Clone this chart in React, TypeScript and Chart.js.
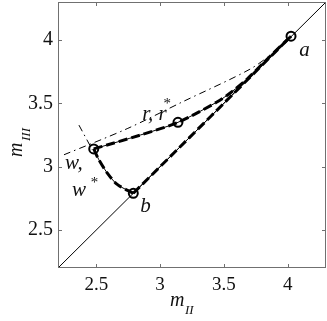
import React, { useEffect, useRef } from "react";
import { Chart, registerables } from "chart.js";

Chart.register(...registerables);

const xRange = [2.2, 4.3];
const yRange = [2.2, 4.3];
const tickValues = [2.5, 3, 3.5, 4];

// y = x diagonal
const diagonal = [
  { x: 2.2, y: 2.2 },
  { x: 4.3, y: 4.3 },
];

// dash-dot curves
const dashDotMain = [
  { x: 2.247, y: 3.094 },
  { x: 2.742, y: 3.3 },
  { x: 3.172, y: 3.51 },
  { x: 3.705, y: 3.77 },
  { x: 3.926, y: 3.927 },
];
const dashDotShort = [
  { x: 2.364, y: 3.328 },
  { x: 2.469, y: 3.133 },
];

// trajectories
const curveWRA = [
  { x: 2.48, y: 3.14 },
  { x: 2.846, y: 3.25 },
  { x: 3.14, y: 3.35 },
  { x: 3.445, y: 3.51 },
  { x: 3.56, y: 3.59 },
  { x: 3.68, y: 3.69 },
  { x: 3.85, y: 3.86 },
  { x: 4.026, y: 4.03 },
];
const curveWB = [
  { x: 2.48, y: 3.14 },
  { x: 2.52, y: 3.055 },
  { x: 2.586, y: 2.95 },
  { x: 2.664, y: 2.86 },
  { x: 2.79, y: 2.79 },
];
const curveBA = [
  { x: 2.79, y: 2.79 },
  { x: 3.4, y: 3.4 },
  { x: 4.026, y: 4.03 },
];

const markers = [
  { x: 4.026, y: 4.03 },
  { x: 3.14, y: 3.35 },
  { x: 2.48, y: 3.14 },
  { x: 2.79, y: 2.79 },
];

// annotation labels (data coordinates of text baseline-left)
const labels = [
  { text: "a", x: 4.09, y: 3.87, size: 21 },
  { text: "b", x: 2.845, y: 2.64, size: 21 },
  { text: "r, r", x: 2.86, y: 3.37, size: 21 },
  { text: "*", x: 3.02, y: 3.46, size: 15 },
  { text: "w,", x: 2.255, y: 2.98, size: 21 },
  { text: "w", x: 2.31, y: 2.77, size: 21 },
  { text: "*", x: 2.45, y: 2.84, size: 15 },
];

const frameColor = "#707070";
const serif = "'Liberation Serif', 'Times New Roman', serif";

const framePlugin = {
  id: "frameTicks",
  afterDatasetsDraw(chart: any) {
    const { ctx, chartArea: a, scales } = chart;
    const xs = scales.x;
    const ys = scales.y;
    ctx.save();
    ctx.strokeStyle = frameColor;
    ctx.lineWidth = 1;
    ctx.strokeRect(a.left + 0.5, a.top + 0.5, a.right - a.left - 1, a.bottom - a.top - 1);
    const tl = 4;
    ctx.beginPath();
    for (const v of tickValues) {
      const px = Math.round(xs.getPixelForValue(v)) + 0.5;
      ctx.moveTo(px, a.bottom);
      ctx.lineTo(px, a.bottom - tl);
      ctx.moveTo(px, a.top);
      ctx.lineTo(px, a.top + tl);
      const py = Math.round(ys.getPixelForValue(v)) + 0.5;
      ctx.moveTo(a.left, py);
      ctx.lineTo(a.left + tl, py);
      ctx.moveTo(a.right, py);
      ctx.lineTo(a.right - tl, py);
    }
    ctx.stroke();

    // annotation labels
    ctx.fillStyle = "#111";
    ctx.textBaseline = "alphabetic";
    ctx.textAlign = "left";
    for (const l of labels) {
      ctx.font = `italic ${l.size}px ${serif}`;
      ctx.fillText(l.text, xs.getPixelForValue(l.x), ys.getPixelForValue(l.y));
    }

    // axis titles
    ctx.font = `italic 20px ${serif}`;
    const cx = (a.left + a.right) / 2;
    ctx.fillText("m", cx - 22, 306);
    ctx.font = `italic 13px ${serif}`;
    ctx.fillText("II", cx - 7, 314);

    ctx.save();
    ctx.translate(22, (a.top + a.bottom) / 2);
    ctx.rotate(-Math.PI / 2);
    ctx.font = `italic 20px ${serif}`;
    ctx.fillText("m", -22, 0);
    ctx.font = `italic 13px ${serif}`;
    ctx.fillText("III", -6, 8);
    ctx.restore();
    ctx.restore();
  },
};

export default function App() {
  const ref = useRef<HTMLCanvasElement>(null);
  useEffect(() => {
    const prevMargin = document.body.style.margin;
    document.body.style.margin = "0";
    const lineDs = (data: any[], width: number, dash: number[], tension = 0.35) => ({
      data,
      showLine: true,
      borderColor: "#000",
      borderWidth: width,
      borderDash: dash,
      pointRadius: 0,
      fill: false,
      tension,
    });
    const zeroPad = (s: any) => {
      s.paddingTop = 0;
      s.paddingBottom = 0;
      s.paddingLeft = 0;
      s.paddingRight = 0;
    };
    const chart = new Chart(ref.current!, {
      type: "scatter",
      data: {
        datasets: [
          lineDs(diagonal, 1, [], 0),
          lineDs(dashDotMain, 1, [7, 4, 1.5, 4], 0.3),
          lineDs(dashDotShort, 1, [7, 4, 1.5, 4], 0),
          lineDs(curveWRA, 1, [], 0.3),
          lineDs(curveWB, 1, [], 0.3),
          lineDs(curveBA, 1, [], 0),
          lineDs(curveWRA, 3, [9, 4], 0.3),
          lineDs(curveWB, 3, [9, 4], 0.3),
          lineDs(curveBA, 3, [9, 4], 0),
          {
            data: markers,
            showLine: false,
            pointRadius: 4.5,
            pointBackgroundColor: "#fff",
            pointBorderColor: "#000",
            pointBorderWidth: 2,
          } as any,
        ],
      },
      options: {
        responsive: false,
        animation: false,
        layout: { autoPadding: false, padding: { left: 0, right: 1, top: 2, bottom: 0 } },
        plugins: { legend: { display: false }, tooltip: { enabled: false } },
        scales: {
          x: {
            type: "linear",
            min: xRange[0],
            max: xRange[1],
            afterBuildTicks: (s: any) => {
              s.ticks = tickValues.map((v) => ({ value: v }));
            },
            afterFit: (s: any) => {
              s.height = 53;
              zeroPad(s);
            },
            grid: { display: false, drawTicks: false },
            border: { display: false },
            ticks: {
              padding: 6,
              color: "#111",
              font: { family: serif, size: 19 },
              callback: (v: any) => String(v),
            },
          },
          y: {
            type: "linear",
            min: yRange[0],
            max: yRange[1],
            afterBuildTicks: (s: any) => {
              s.ticks = tickValues.map((v) => ({ value: v }));
            },
            afterFit: (s: any) => {
              s.width = 58;
              zeroPad(s);
            },
            grid: { display: false, drawTicks: false },
            border: { display: false },
            ticks: {
              padding: 5,
              color: "#111",
              font: { family: serif, size: 20 },
              callback: (v: any) => String(v),
            },
          },
        },
      },
      plugins: [framePlugin],
    });
    return () => {
      chart.destroy();
      document.body.style.margin = prevMargin;
    };
  }, []);
  return (
    <div style={{ width: 327, height: 321 }}>
      <canvas ref={ref} width={327} height={321} style={{ display: "block" }} />
    </div>
  );
}
